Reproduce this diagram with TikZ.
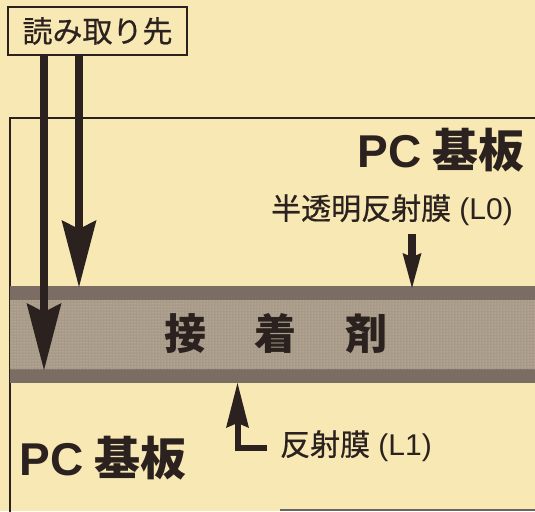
\documentclass[tikz,border=0pt]{standalone}
\usepackage{fontspec}
\newfontfamily\jp{Noto Sans CJK JP}
\newfontfamily\lat{Liberation Sans}
\usetikzlibrary{arrows.meta,patterns}
\definecolor{bg}{HTML}{F7E8B4}
\definecolor{ink}{HTML}{2B2220}
\definecolor{banddark}{HTML}{7B6D63}
\definecolor{bandmid}{HTML}{A89A88}
\definecolor{banddot}{HTML}{D8CBB0}
\begin{document}
\begin{tikzpicture}[x=1pt,y=-1pt,
  lbl/.style={font=\jp\addfontfeature{FakeBold=0.6}\fontsize{30}{30}\selectfont, text=ink, inner sep=0pt},
  big/.style={font=\jp\bfseries\fontsize{46}{46}\selectfont, text=ink, inner sep=0pt},
  glue/.style={font=\jp\bfseries\fontsize{42}{42}\selectfont, text=ink, inner sep=0pt},
  fat/.style={draw=ink, line width=8pt, -{Stealth[length=67pt,width=35pt,inset=9pt,line width=0pt]}},
  thin/.style={draw=ink, line width=8pt, -{Stealth[length=35pt,width=19pt,inset=4pt,line width=0pt]}},
  elbow/.style={draw=ink, line width=6pt, -{Stealth[length=45pt,width=23pt,inset=5pt,line width=0pt]}},
  frame/.style={draw=ink, line width=1.6pt}]
\useasboundingbox (0,0) rectangle (535,511);
\fill[bg] (0,0) rectangle (535,511);
% substrate frame
\draw[frame] (536,118) -- (10,118) -- (10,512);
\draw[draw=ink!70, line width=2pt] (280,510) -- (536,510);
% adhesive band
\fill[banddark] (10,286) rectangle (536,383);
\fill[bandmid] (10,300) rectangle (536,369);
\fill[pattern=dots, pattern color=banddot] (10,300) rectangle (536,369);
% label box
\node[lbl, draw=ink, line width=1.6pt, minimum width=179pt, minimum height=48pt] (src) at (97.5,31) {読み取り先};
% coordinates
\coordinate (tipA) at (44,370);
\coordinate (tipB) at (79,287);
\coordinate (tipL0) at (412,288);
\coordinate (startL0) at (412,234);
\coordinate (tipL1) at (237.5,383);
\coordinate (startL1) at (267,448);
% labels
\node[big] (pctop) at (441,150) {{\lat\bfseries PC} 基板};
\node[big] (pcbot) at (103,458) {{\lat\bfseries PC} 基板};
\node[glue] (adh) at (276,334) {接\hspace{49pt}着\hspace{49pt}剤};
\node[lbl] (l0) at (392,210) {半透明反射膜{\lat\ (L0)}};
\node[lbl] (l1) at (356,446) {反射膜{\lat\ (L1)}};
% arrows
\draw[fat] (src.south -| tipA) -- (tipA);
\draw[fat] (src.south -| tipB) -- (tipB);
\draw[thin] (startL0) -- (tipL0);
\draw[elbow] (startL1) -| (tipL1);
\end{tikzpicture}
\end{document}
